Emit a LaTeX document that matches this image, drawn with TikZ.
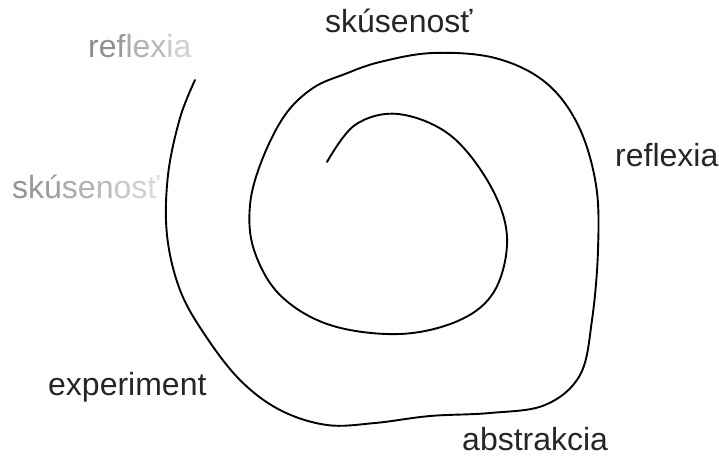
\documentclass[tikz,border=0pt]{standalone}
\usepackage{fontspec}
\setmainfont{Liberation Sans}
\definecolor{txt}{HTML}{262626}
\begin{document}
\begin{tikzpicture}[x=1pt,y=-1pt,
  lbl/.style={font=\fontsize{32}{36}\selectfont, text=txt, inner sep=0pt, anchor=base west},
  glbl/.style={font=\fontsize{32}{36}\selectfont, inner sep=0pt, anchor=base west},
  spiral/.style={line width=1.9pt, black, line cap=round}]
\useasboundingbox (0,0) rectangle (719,457);
\draw[spiral] plot[smooth, tension=0.6] coordinates {
 (327,162) (355,125) (398,114) (450,135) (490,185) (507,237) (495,290) (460,320)
 (400,334) (330,325) (280,295) (254,250) (250,205) (262,160) (285,115) (313,88)
 (345,74) (380,62) (433,53) (495,58) (545,82) (578,125) (596,185) (598,250)
 (592,320) (580,375) (545,405) (490,413) (430,416) (375,423) (327,425) (280,410)
 (240,380) (205,335) (180,290) (167,235) (168,175) (180,118) (195,80)};
\node[lbl] (sk) at (325,33) {skúsenosť};
\node[lbl] (rf) at (615,167) {reflexia};
\node[lbl] (ab) at (462,450) {abstrakcia};
\node[lbl] (ex) at (48,395) {experiment};
\node[glbl] (grf) at (88,58) {\textcolor{black!45}{r}\textcolor{black!43}{e}\textcolor{black!40}{f}\textcolor{black!34}{l}\textcolor{black!30}{e}\textcolor{black!27}{x}\textcolor{black!22}{i}\textcolor{black!18}{a}};
\node[glbl] (gsk) at (12,198) {\textcolor{black!42}{s}\textcolor{black!40}{k}\textcolor{black!38}{ú}\textcolor{black!33}{s}\textcolor{black!30}{e}\textcolor{black!27}{n}\textcolor{black!22}{o}\textcolor{black!19}{s}\textcolor{black!15}{ť}};
\end{tikzpicture}
\end{document}
